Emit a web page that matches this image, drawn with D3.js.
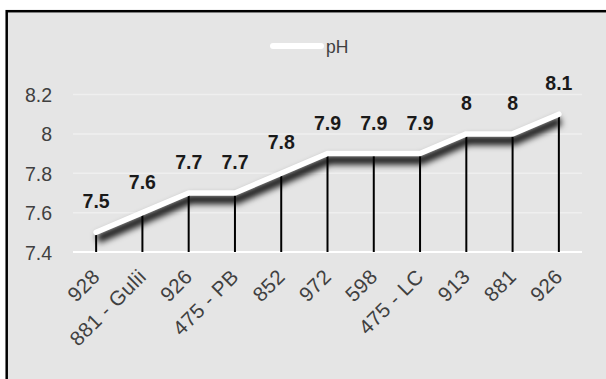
<!DOCTYPE html>
<html>
<head>
<meta charset="utf-8">
<script src="https://cdn.jsdelivr.net/npm/d3@7"></script>
<style>
  html, body { margin: 0; padding: 0; background: #fff; }
  svg { display: block; }
</style>
</head>
<body>
<svg id="chart" width="606" height="379"></svg>
<script>
// Sample sites and their measured pH
const categories = ["928", "881 - Gulii", "926", "475 - PB", "852", "972", "598", "475 - LC", "913", "881", "926"];
const phValues = [7.5, 7.6, 7.7, 7.7, 7.8, 7.9, 7.9, 7.9, 8, 8, 8.1];
const yTicks = [7.4, 7.6, 7.8, 8, 8.2];
const yTickLabels = ["7.4", "7.6", "7.8", "8", "8.2"];
const seriesName = "pH";

const font = "'Liberation Sans', Arial, sans-serif";
const svg = d3.select("#chart");

// Chart frame
svg.append("rect")
  .attr("x", 6.7).attr("y", 11.2)
  .attr("width", 700).attr("height", 500)
  .attr("fill", "#e5e5e5")
  .attr("stroke", "#000").attr("stroke-width", 2.5);

const x = d3.scaleBand().domain(d3.range(categories.length)).range([73, 582]).padding(0);
const y = d3.scaleLinear().domain([7.4, 8.2]).range([252, 94.5]);
const cx = i => x(i) + x.bandwidth() / 2;

// Horizontal gridlines
svg.append("g").selectAll("line")
  .data(yTicks.slice(1))
  .join("line")
  .attr("x1", 73).attr("x2", 582)
  .attr("y1", d => y(d)).attr("y2", d => y(d))
  .attr("stroke", "#efefef").attr("stroke-width", 1.5);

// Value axis labels
const yAxis = d3.axisLeft(y).tickValues(yTicks).tickSize(0).tickPadding(0)
  .tickFormat((d, i) => yTickLabels[i]);
const yg = svg.append("g").attr("transform", "translate(52,0)").call(yAxis);
yg.select(".domain").remove();
yg.selectAll("text")
  .attr("font-family", font).attr("font-size", 19.5).attr("fill", "#404040")
  .attr("dy", "0.36em");

// Category axis baseline
svg.append("line")
  .attr("x1", 73).attr("x2", 582)
  .attr("y1", y(7.4)).attr("y2", y(7.4))
  .attr("stroke", "#fff").attr("stroke-width", 2);

// Category labels, rotated
svg.append("g").selectAll("text")
  .data(categories)
  .join("text")
  .attr("transform", (d, i) => `translate(${cx(i) + 5},${y(7.4) + 26}) rotate(-45)`)
  .attr("text-anchor", "end")
  .attr("font-family", font).attr("font-size", 20.5).attr("fill", "#404040")
  .attr("letter-spacing", 0.4)
  .text(d => d);

// Soft shadow under the series line
const defs = svg.append("defs");
defs.append("filter").attr("id", "soft")
  .attr("x", "-20%").attr("y", "-50%").attr("width", "140%").attr("height", "200%")
  .append("feGaussianBlur").attr("stdDeviation", 3.2);

const line = d3.line().x((d, i) => cx(i)).y(d => y(d));

svg.append("path")
  .datum(phValues)
  .attr("d", line)
  .attr("transform", "translate(1.5,6.5)")
  .attr("fill", "none")
  .attr("stroke", "#000").attr("stroke-width", 9)
  .attr("stroke-opacity", 0.9)
  .attr("filter", "url(#soft)");

// Drop lines from each point to the axis
svg.append("g").selectAll("line")
  .data(phValues)
  .join("line")
  .attr("x1", (d, i) => cx(i)).attr("x2", (d, i) => cx(i))
  .attr("y1", d => y(d)).attr("y2", y(7.4))
  .attr("stroke", "#000").attr("stroke-width", 2);

// Series line
svg.append("path")
  .datum(phValues)
  .attr("d", line)
  .attr("fill", "none")
  .attr("stroke", "#fff").attr("stroke-width", 5.5)
  .attr("stroke-linejoin", "round").attr("stroke-linecap", "round");

// Data labels
svg.append("g").selectAll("text")
  .data(phValues)
  .join("text")
  .attr("x", (d, i) => cx(i))
  .attr("y", d => y(d) - 24)
  .attr("text-anchor", "middle")
  .attr("font-family", font).attr("font-size", 19.5).attr("font-weight", "bold")
  .attr("fill", "#1a1a1a")
  .text(d => String(d));

// Legend
const lg = svg.append("g");
lg.append("line")
  .attr("x1", 273).attr("x2", 321).attr("y1", 46).attr("y2", 46)
  .attr("stroke", "#fff").attr("stroke-width", 6).attr("stroke-linecap", "round");
lg.append("text")
  .attr("x", 326).attr("y", 53)
  .attr("font-family", font).attr("font-size", 17.5).attr("fill", "#404040")
  .text(seriesName);
</script>
</body>
</html>
